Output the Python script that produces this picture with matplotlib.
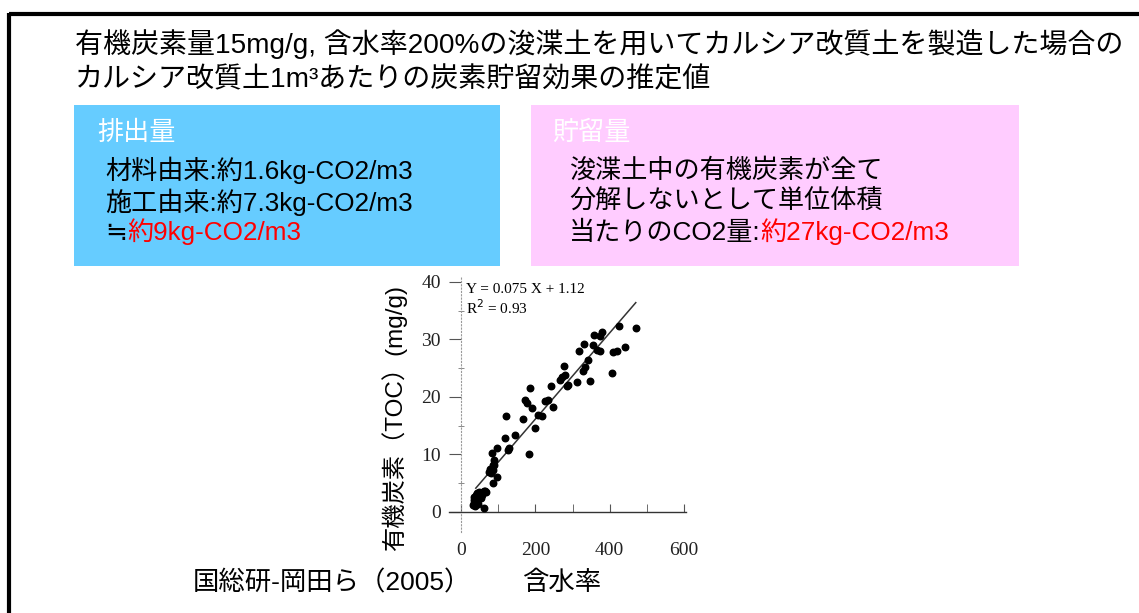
import numpy as np
from matplotlib import pyplot as plt

# ---- data (含水率 % vs TOC mg/g)
water = [33, 34, 35, 36, 38, 39, 40, 41, 42, 43, 44, 45, 46, 47, 48, 50, 51, 53, 55, 58, 62, 66, 62, 67,
         75, 78, 81, 85, 86, 88, 89, 84, 86, 97, 97,
         118, 121, 126, 129, 145,
         167, 172, 177, 182, 185, 190, 199, 208, 217, 226, 235, 242, 248,
         266, 273, 280, 278, 284, 288, 311, 318, 329, 333, 331, 342, 347, 354, 358, 365, 374, 374, 378,
         405, 409, 419, 424, 441, 470]
toc = [1.2, 2.0, 1.6, 2.6, 1.0, 2.2, 3.0, 1.5, 2.5, 1.9, 3.3, 2.8, 1.4, 2.2, 3.5, 2.7, 3.1, 2.4, 3.3, 3.0, 3.6, 3.6, 0.6, 3.5,
       7.0, 7.4, 6.7, 8.1, 7.3, 9.0, 8.2, 10.3, 5.0, 11.1, 6.1,
       12.9, 16.7, 10.8, 11.1, 13.4,
       16.1, 19.5, 18.9, 10.0, 21.5, 18.0, 14.6, 16.9, 16.7, 19.2, 19.5, 21.8, 18.3,
       23.0, 23.4, 23.8, 25.4, 21.8, 22.1, 22.5, 27.9, 24.4, 25.2, 29.2, 26.4, 22.8, 29.0, 30.8, 28.2, 27.9, 30.5, 31.2,
       24.1, 27.8, 27.9, 32.3, 28.7, 31.9]
slope = 0.075
intercept = 1.12
fit_range = [40, 470]
x_ticks = [0, 200, 400, 600]
y_ticks = [0, 10, 20, 30, 40]

title_lines = ['有機炭素量15mg/g, 含水率200%の浚渫土を用いてカルシア改質土を製造した場合の',
               'カルシア改質土1m³あたりの炭素貯留効果の推定値']
emit_head = '排出量'
emit_lines = ['材料由来:約1.6kg-CO2/m3', '施工由来:約7.3kg-CO2/m3']
emit_total = ('≒', '約9kg-CO2/m3')
store_head = '貯留量'
store_lines = ['浚渫土中の有機炭素が全て', '分解しないとして単位体積']
store_total = ('当たりのCO2量:', '約27kg-CO2/m3')
source = '国総研-岡田ら（2005）'

jp = ['Liberation Sans', 'Noto Sans CJK JP', 'DejaVu Sans']
plt.rcParams['font.family'] = jp

fig = plt.figure(figsize=(11.39, 6.13), dpi=100)

# overlay axes in pixel units for the slide layout
ax0 = fig.add_axes([0, 0, 1, 1])
ax0.set_xlim(0, 1139)
ax0.set_ylim(613, 0)
ax0.axis('off')

# frame (top and left edges only visible)
ax0.plot([9, 1139], [14, 14], color='black', lw=3, solid_capstyle='butt')
ax0.plot([9, 9], [12.5, 613], color='black', lw=3, solid_capstyle='butt')

for i, line in enumerate(title_lines):
    ax0.text(75, 44 + 36 * i, line, fontsize=20.2, va='center', ha='left')

ax0.add_patch(plt.Rectangle((74, 105), 426, 161, color='#66CCFF', lw=0))
ax0.add_patch(plt.Rectangle((531, 105), 488, 161, color='#FFCCFF', lw=0))

fs = 18.8
base = 240  # baseline of the last line in each box
ax0.text(97, 133, emit_head, fontsize=fs, color='white', va='center')
for i, line in enumerate(emit_lines):
    ax0.text(105, 170 + 32 * i, line, fontsize=fs, va='center')
t = ax0.text(105, base, emit_total[0], fontsize=fs, va='baseline', family=['Noto Sans CJK JP', 'DejaVu Sans'])
ax0.annotate(emit_total[1], xy=(1, base), xycoords=(t, 'data'), va='baseline', ha='left',
             fontsize=fs, color='red')

ax0.text(552, 133, store_head, fontsize=fs, color='white', va='center')
for i, line in enumerate(store_lines):
    ax0.text(569, 170 + 32 * i, line, fontsize=fs, va='center')
t = ax0.text(569, base, store_total[0], fontsize=fs, va='baseline')
ax0.annotate(store_total[1], xy=(1, base), xycoords=(t, 'data'), va='baseline', ha='left',
             fontsize=fs, color='red')

ax0.text(193, 583, source, fontsize=19, va='center')

# ---- scatter panel
ax = fig.add_axes([449 / 1139, 1 - 532 / 613, 237 / 1139, 256 / 613])
ax.patch.set_alpha(0)
ax.scatter(water, toc, s=22, color='black', zorder=3)
fx = np.array(fit_range)
ax.plot(fx, slope * fx + intercept, color='#333333', lw=1.1)
ax.set_xlim(-32, 605)
ax.set_ylim(-3.5, 41)
ax.spines['top'].set_visible(False)
ax.spines['right'].set_visible(False)
ax.spines['left'].set_position(('data', 0))
ax.spines['bottom'].set_position(('data', 0))
ax.spines['left'].set_color('#999999')
ax.spines['left'].set_linestyle((0, (1, 2)))
ax.spines['left'].set_linewidth(0.8)
ax.spines['bottom'].set_color('#333333')
ax.spines['bottom'].set_linewidth(1.0)

ax.set_xticks(x_ticks)
ax.set_xticks([100, 300, 500], minor=True)
ax.set_yticks(y_ticks)
ax.set_yticks([5, 15, 25, 35], minor=True)
ax.tick_params(axis='x', which='both', direction='in', length=6, color='#555555', pad=22)
ax.tick_params(axis='y', which='major', direction='out', length=8.5, color='#555555', pad=6)
ax.tick_params(axis='y', which='minor', direction='inout', length=4, color='#777777')
for lab in ax.get_xticklabels() + ax.get_yticklabels():
    lab.set_family('Liberation Serif')
    lab.set_fontsize(14)
    lab.set_color('#222222')

ax.text(13, 38.6, 'Y = %.3f X + %.2f' % (slope, intercept), family='Liberation Serif', fontsize=11, va='center')
ax.text(13, 35.5, 'R$^2$ = 0.93', family='Liberation Serif', fontsize=11, va='center')

ax.set_ylabel('有機炭素（TOC）(mg/g)', fontsize=17.5)
ax.yaxis.set_label_coords(-0.177, 0.445)
ax.set_xlabel('含水率', fontsize=19)
ax.xaxis.label.set_va('center')
ax.xaxis.set_label_coords(0.477, -0.2)

fig.savefig('out.png', dpi=100)
